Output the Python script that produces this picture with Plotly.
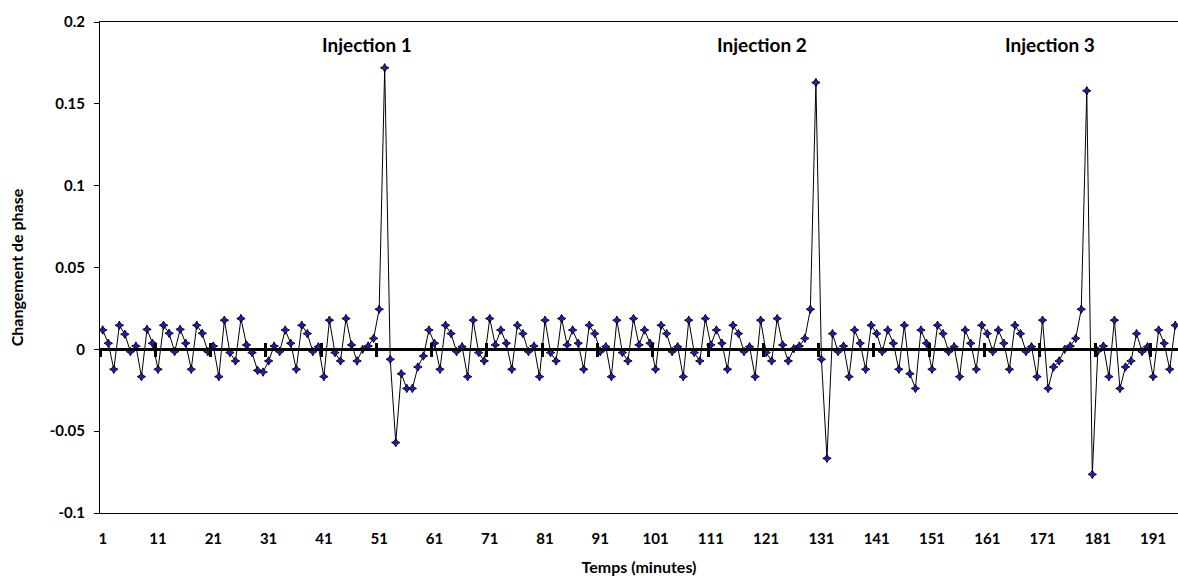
import plotly.graph_objects as go

# ---- data ----
minutes = list(range(1, 196))
phase_change = [
    0.0118, 0.0037, -0.0122, 0.0147, 0.0092, -0.0014, 0.0020, -0.0167, 0.0122, 0.0037,
    -0.0122, 0.0147, 0.0098, -0.0014, 0.0122, 0.0037, -0.0122, 0.0147, 0.0098, -0.0014,
    0.0020, -0.0167, 0.0178, -0.0020, -0.0071, 0.0188, 0.0027, -0.0020, -0.0129, -0.0139,
    -0.0071, 0.0020, -0.0014, 0.0118, 0.0037, -0.0122, 0.0147, 0.0096, -0.0014, 0.0016,
    -0.0167, 0.0178, -0.0020, -0.0071, 0.0188, 0.0027, -0.0071, 0.0000, 0.0020, 0.0067,
    0.0245, 0.1720, -0.0061, -0.0570, -0.0149, -0.0239, -0.0239, -0.0108, -0.0041, 0.0118,
    0.0037, -0.0122, 0.0147, 0.0096, -0.0014, 0.0016, -0.0167, 0.0178, -0.0020, -0.0071,
    0.0188, 0.0027, 0.0118, 0.0037, -0.0122, 0.0147, 0.0096, -0.0014, 0.0020, -0.0167,
    0.0178, -0.0020, -0.0071, 0.0188, 0.0027, 0.0118, 0.0037, -0.0122, 0.0147, 0.0096,
    -0.0014, 0.0016, -0.0167, 0.0178, -0.0020, -0.0071, 0.0188, 0.0027, 0.0118, 0.0037,
    -0.0122, 0.0147, 0.0096, -0.0014, 0.0016, -0.0167, 0.0178, -0.0020, -0.0071, 0.0188,
    0.0027, 0.0118, 0.0037, -0.0122, 0.0147, 0.0096, -0.0014, 0.0016, -0.0167, 0.0178,
    -0.0020, -0.0071, 0.0188, 0.0027, -0.0071, 0.0004, 0.0020, 0.0067, 0.0245, 0.1630,
    -0.0061, -0.0666, 0.0096, -0.0014, 0.0020, -0.0167, 0.0118, 0.0037, -0.0122, 0.0147,
    0.0096, -0.0014, 0.0118, 0.0037, -0.0122, 0.0147, -0.0149, -0.0239, 0.0118, 0.0037,
    -0.0122, 0.0147, 0.0096, -0.0014, 0.0016, -0.0167, 0.0118, 0.0037, -0.0122, 0.0147,
    0.0096, -0.0014, 0.0118, 0.0037, -0.0122, 0.0147, 0.0096, -0.0014, 0.0016, -0.0167,
    0.0178, -0.0239, -0.0108, -0.0071, 0.0000, 0.0020, 0.0067, 0.0245, 0.1580, -0.0764,
    -0.0010, 0.0020, -0.0167, 0.0178, -0.0239, -0.0108, -0.0071, 0.0096, -0.0014, 0.0016,
    -0.0167, 0.0118, 0.0037, -0.0122, 0.0147,
]
x_tick_labels = [str(v) for v in range(1, 196, 10)]
y_tick_values = [-0.1, -0.05, 0, 0.05, 0.1, 0.15, 0.2]
y_tick_labels = ["-0.1", "-0.05", "0", "0.05", "0.1", "0.15", "0.2"]
injection_labels = ["Injection 1", "Injection 2", "Injection 3"]
injection_label_x = [48.8, 120.2, 172.3]

FONT = "Lato"
n = len(minutes)
x_range = [0.5, n + 0.5]
boundaries = [v + 0.5 for v in range(0, n + 1, 10)]

fig = go.Figure()
fig.add_trace(go.Scatter(
    x=minutes, y=phase_change, mode="lines+markers",
    line=dict(color="black", width=1),
    marker=dict(symbol="star-diamond", size=6, color="#1a1acc",
                line=dict(color="black", width=1)),
    showlegend=False, hoverinfo="x+y",
))
# invisible helper traces so the zero-line axes are drawn
for ax in ["x2", "x3"]:
    fig.add_trace(go.Scatter(x=[None], y=[None], xaxis=ax, showlegend=False,
                             hoverinfo="skip"))

for lab, xv in zip(injection_labels, injection_label_x):
    fig.add_annotation(x=xv, y=0.186, text=lab, showarrow=False,
                       font=dict(family=FONT, size=19, color="black", weight="bold"),
                       xanchor="center", yanchor="middle")

tickfont = dict(family=FONT, size=15, color="black", weight="bold")
titlefont = dict(family=FONT, size=16, color="black", weight="bold")
fig.update_layout(
    width=1178, height=585,
    margin=dict(l=100, r=0, t=22, b=72),
    paper_bgcolor="white", plot_bgcolor="white",
    xaxis=dict(range=x_range, tickmode="array",
               tickvals=list(range(1, n + 1, 10)), ticktext=x_tick_labels,
               ticks="outside", ticklen=12, tickcolor="rgba(0,0,0,0)",
               showline=True, linecolor="black", linewidth=1, mirror=True,
               showgrid=False, zeroline=False, tickfont=tickfont,
               title=dict(text="Temps (minutes)", standoff=15, font=titlefont)),
    xaxis2=dict(range=x_range, overlaying="x", anchor="free", position=1/3,
                side="bottom", tickmode="array", tickvals=boundaries,
                ticks="outside", ticklen=6, tickwidth=3, tickcolor="black",
                showticklabels=False, showline=True, linecolor="black", linewidth=3,
                showgrid=False, zeroline=False),
    xaxis3=dict(range=x_range, overlaying="x", anchor="free", position=1/3,
                side="bottom", tickmode="array", tickvals=boundaries,
                ticks="inside", ticklen=6, tickwidth=3, tickcolor="black",
                showticklabels=False, showline=False,
                showgrid=False, zeroline=False),
    yaxis=dict(range=[-0.1, 0.2], tickmode="array", tickvals=y_tick_values,
               ticktext=y_tick_labels, ticks="outside", ticklen=5,
               tickcolor="black", showline=True, linecolor="black", linewidth=1,
               mirror=True, showgrid=False, zeroline=False, tickfont=tickfont,
               ticklabelstandoff=6,
               title=dict(text="Changement de phase", standoff=22, font=titlefont)),
)

fig.write_html("out.html")
